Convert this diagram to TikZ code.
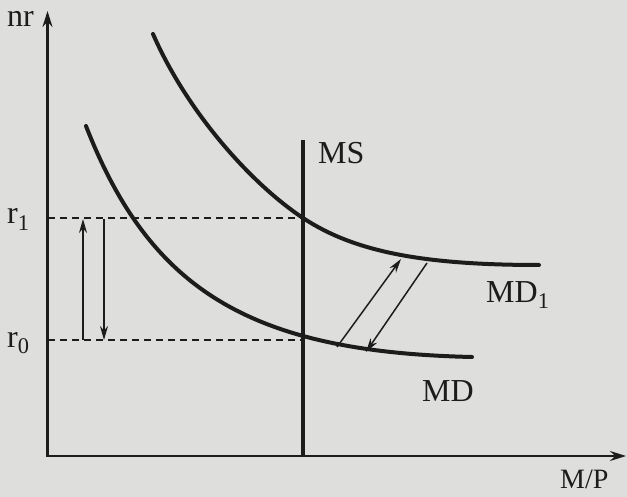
\documentclass[tikz,border=0pt]{standalone}
\usepackage{fontspec}
\setmainfont{Liberation Serif}
\usetikzlibrary{arrows.meta}
\definecolor{bg}{RGB}{222,222,220}
\definecolor{ink}{RGB}{28,28,28}
\begin{document}
\begin{tikzpicture}[x=1pt,y=-1pt,
  lbl/.style={font=\fontsize{32}{36}\selectfont, inner sep=0pt, anchor=base west, text=ink},
  axis/.style={draw=ink, line width=2.2pt, {Stealth[length=16pt,width=10pt]}-{Stealth[length=16pt,width=10pt]}},
  curve/.style={draw=ink, line width=4pt, line cap=round},
  msline/.style={draw=ink, line width=3.2pt},
  guide/.style={draw=ink, line width=1.6pt, dash pattern=on 7pt off 5pt},
  shiftarrow/.style={draw=ink, line width=1.5pt, -{Stealth[length=14pt,width=8pt]}}]
\fill[bg] (0,0) rectangle (627,497);
\useasboundingbox (0,0) rectangle (627,497);
% axes
\coordinate (O) at (47.5,456);
\coordinate (ytop) at (47.5,11);
\coordinate (xend) at (626,456);
\draw[axis] (ytop) -- (O) -- (xend);
\node[lbl] (nr) at (7,27) {nr};
\node[lbl, font=\fontsize{28}{32}\selectfont] (mp) at (560,488) {M/P};
% MS
\coordinate (mstop) at (303,140);
\coordinate (msbot) at (303,456);
\draw[msline] (mstop) -- (msbot);
\node[lbl] (ms) at (318,164) {MS};
% guide lines
\coordinate (r1a) at (48,218);
\coordinate (r1b) at (303,218);
\coordinate (r0a) at (48,340);
\coordinate (r0b) at (303,340);
\draw[guide] (r1a) -- (r1b);
\draw[guide] (r0a) -- (r0b);
\node[lbl] (r1) at (7,224) {r\textsubscript{1}};
\node[lbl] (r0) at (7,347) {r\textsubscript{0}};
% vertical arrows
\coordinate (upb) at (83,340);
\coordinate (upt) at (83,219);
\coordinate (dnt) at (104,219);
\coordinate (dnb) at (104,340);
\draw[shiftarrow] (upb) -- (upt);
\draw[shiftarrow] (dnt) -- (dnb);
% curves
\coordinate (mds) at (86,126);
\coordinate (mde) at (472,357);
\draw[curve] (mds) .. controls (150,290) and (250,352) .. (mde);
\coordinate (md1s) at (153,34);
\coordinate (md1m) at (303,218);
\coordinate (md1e) at (539,265);
\draw[curve] (md1s) .. controls (188,114) and (253,185) .. (md1m)
  .. controls (353,251) and (420,265) .. (md1e);
\node[lbl] (md1) at (486,302) {MD\textsubscript{1}};
\node[lbl] (md) at (422,401) {MD};
% diagonal arrows
\coordinate (d1a) at (337,347);
\coordinate (d1b) at (401,259);
\coordinate (d2a) at (427,263);
\coordinate (d2b) at (366,352);
\draw[shiftarrow] (d1a) -- (d1b);
\draw[shiftarrow] (d2a) -- (d2b);
\end{tikzpicture}
\end{document}
